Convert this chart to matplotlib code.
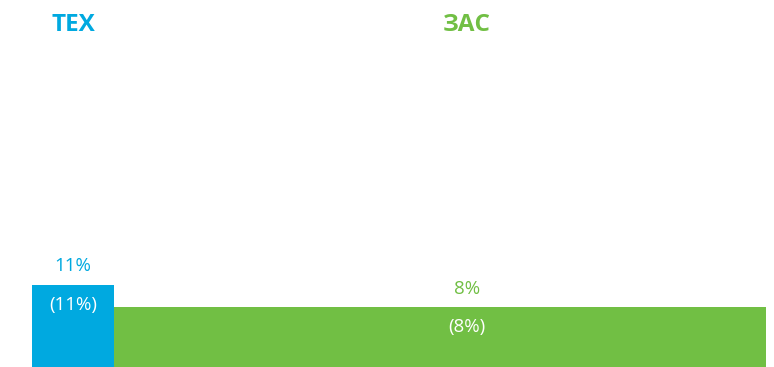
import matplotlib
matplotlib.use("Agg")
import matplotlib.pyplot as plt

# Segment data: name, column width (share of axis), bar height (%)
segments = ["TEX", "ЗАС"]
widths = [11.2, 96.2]
values = [11, 8]
inner_labels = ["(11%)", "(8%)"]
colors = ["#00A9E0", "#71BF44"]

plt.rcParams["font.family"] = ["Open Sans", "DejaVu Sans"]

W, H = 774, 367
fig = plt.figure(figsize=(W / 100, H / 100), dpi=100)
ax = fig.add_axes([32 / W, 0, 734 / W, 330 / H])
ax.set_xlim(0, 100)
ax.set_ylim(0, 44.3)
ax.axis("off")

left = 0.0
for name, w, v, inner, c in zip(segments, widths, values, inner_labels, colors):
    ax.bar(left, v, width=w, align="edge", color=c, edgecolor="none")
    cx = left + w / 2
    ax.annotate(f"{v}%", (cx, v), xytext=(0, 13.5), textcoords="offset points",
                ha="center", va="center", color=c, fontsize=13.5)
    ax.annotate(inner, (cx, v), xytext=(0, -14), textcoords="offset points",
                ha="center", va="center", color="white", fontsize=13.5)
    # segment heading at the top of the figure
    xfig = ax.transData.transform((cx, 0))[0] / W
    fig.text(xfig, 1 - 25 / H, name, ha="center", va="center",
             color=c, fontsize=17.5, fontweight="bold")
    left += w

fig.savefig("out.png", dpi=100)
